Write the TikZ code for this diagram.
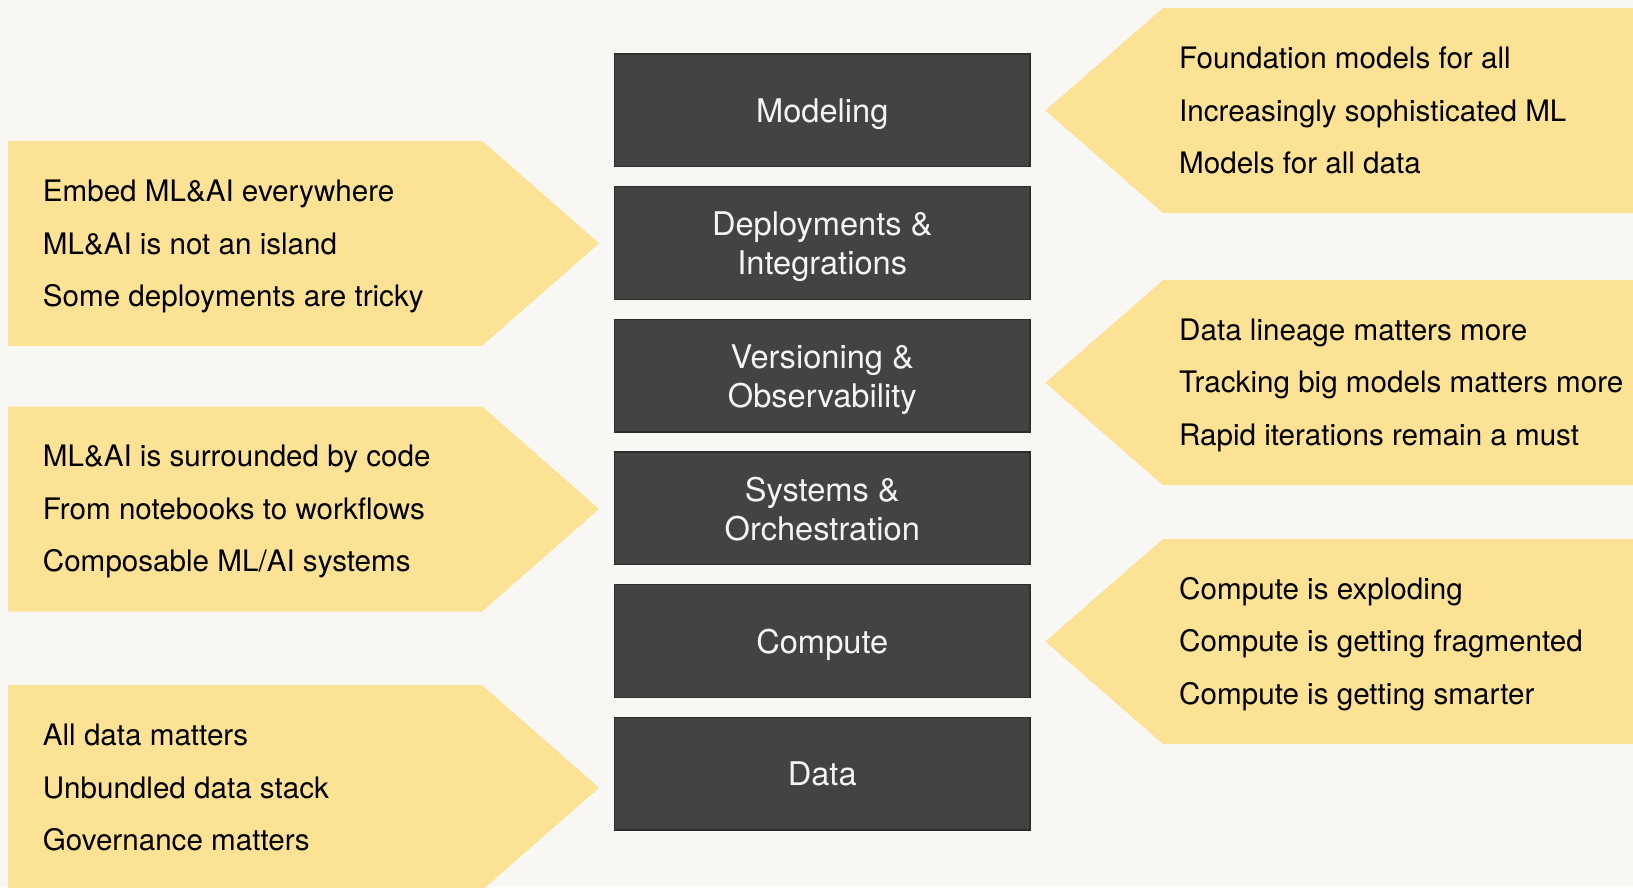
\documentclass[tikz,border=0pt]{standalone}
\usepackage{fontspec}
\setmainfont{TeX Gyre Heros}
\definecolor{bg}{HTML}{F8F7F3}
\definecolor{note}{HTML}{FCE294}
\definecolor{layer}{HTML}{434343}
\definecolor{layeredge}{HTML}{2E2E2E}
\definecolor{layertext}{HTML}{F4F4F0}
\begin{document}
\begin{tikzpicture}[x=1pt,y=-1pt,
  layerbox/.style={draw=layeredge, line width=1.5pt, fill=layer, minimum width=415.5pt,
    minimum height=112.7pt, inner sep=0pt, text=layertext, text depth=0pt,
    font=\fontsize{32.6}{39}\selectfont, align=center},
  notetext/.style={anchor=base west, inner sep=0pt, font=\fontsize{29.6}{35}\selectfont, text=black},
  notearrow/.style={fill=note, draw=none}]
\useasboundingbox (0,0) rectangle (1633,887);
\fill[bg] (0,0) rectangle (1633,887);
\begin{scope}
\clip (0,0) rectangle (1633,887);
% left callouts
\path[notearrow] (8,140.8) -- (482,140.8) -- (599,243.3) -- (482,345.8) -- (8,345.8) -- cycle;
\path[notearrow] (8,406.5) -- (482,406.5) -- (599,509) -- (482,611.5) -- (8,611.5) -- cycle;
\path[notearrow] (8,685.2) -- (482,685.2) -- (599,787.7) -- (482,890.2) -- (8,890.2) -- cycle;
% right callouts
\path[notearrow] (1640,8) -- (1163,8) -- (1045.5,110.5) -- (1163,213) -- (1640,213) -- cycle;
\path[notearrow] (1640,280.2) -- (1163,280.2) -- (1045.5,382.7) -- (1163,485.2) -- (1640,485.2) -- cycle;
\path[notearrow] (1640,539) -- (1163,539) -- (1045.5,641.5) -- (1163,744) -- (1640,744) -- cycle;
\end{scope}
% layer stack
\node[layerbox] (modeling) at (822.25,110.35) {Modeling};
\node[layerbox] (deploy) at (822.25,243) {Deployments \&\\Integrations};
\node[layerbox] (version) at (822.25,375.7) {Versioning \&\\Observability};
\node[layerbox] (systems) at (822.25,508.35) {Systems \&\\Orchestration};
\node[layerbox] (compute) at (822.25,641) {Compute};
\node[layerbox] (data) at (822.25,773.7) {Data};
% left texts
\node[notetext] (l1a) at (42.7,201.8) {Embed ML\&AI everywhere};
\node[notetext] (l1b) at (42.7,254.3) {ML\&AI is not an island};
\node[notetext] (l1c) at (42.7,306.8) {Some deployments are tricky};
\node[notetext] (l2a) at (42.7,466.5) {ML\&AI is surrounded by code};
\node[notetext] (l2b) at (42.7,519) {From notebooks to workflows};
\node[notetext] (l2c) at (42.7,571.5) {Composable ML/AI systems};
\node[notetext] (l3a) at (42.7,745.7) {All data matters};
\node[notetext] (l3b) at (42.7,798.2) {Unbundled data stack};
\node[notetext] (l3c) at (42.7,850.7) {Governance matters};
% right texts
\node[notetext] (r1a) at (1179,68.5) {Foundation models for all};
\node[notetext] (r1b) at (1179,121) {Increasingly sophisticated ML};
\node[notetext] (r1c) at (1179,173.5) {Models for all data};
\node[notetext] (r2a) at (1179,340.2) {Data lineage matters more};
\node[notetext] (r2b) at (1179,392.7) {Tracking big models matters more};
\node[notetext] (r2c) at (1179,445.2) {Rapid iterations remain a must};
\node[notetext] (r3a) at (1179,599) {Compute is exploding};
\node[notetext] (r3b) at (1179,651.5) {Compute is getting fragmented};
\node[notetext] (r3c) at (1179,704) {Compute is getting smarter};
\end{tikzpicture}
\end{document}
